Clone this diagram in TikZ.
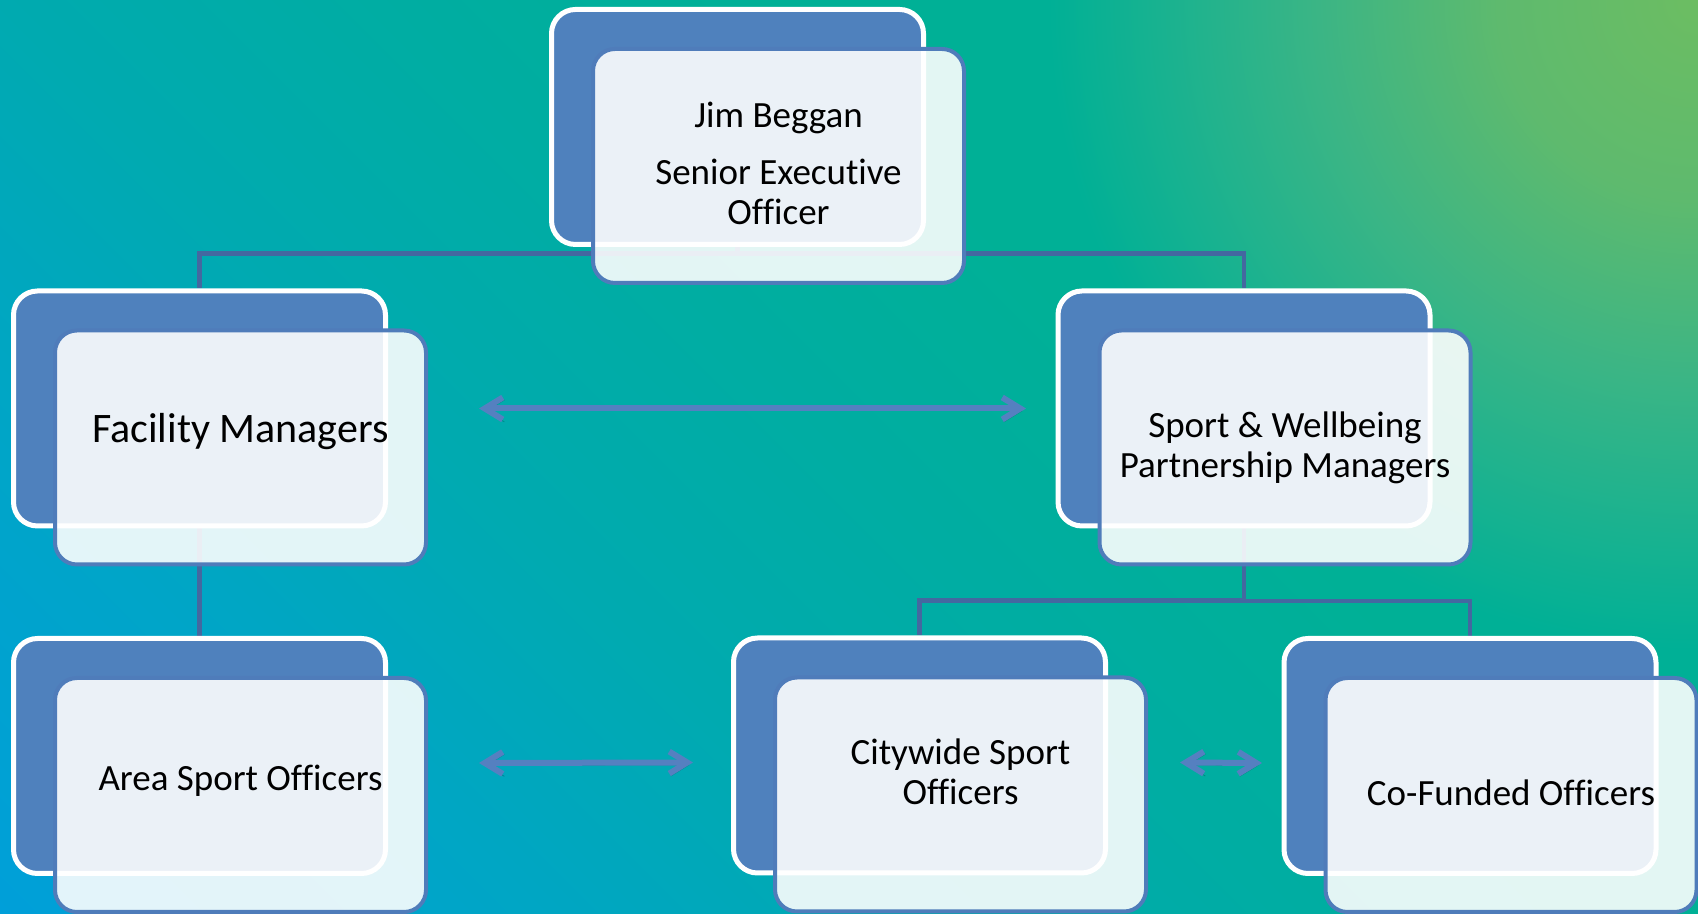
\documentclass[tikz,border=0pt]{standalone}
\usepackage{fontspec}
\setmainfont{Carlito}[Ligatures={NoCommon,NoRequired,NoContextual}]
\usetikzlibrary{arrows.meta}

\definecolor{cardblue}{HTML}{4F81BD}
\definecolor{rimblue}{HTML}{4F7CBA}
\definecolor{linkblue}{HTML}{4468A0}
\definecolor{arrowblue}{HTML}{5580C0}
\definecolor{wash0}{HTML}{009FD9}
\definecolor{wash1}{HTML}{00A5C8}
\definecolor{wash2}{HTML}{00AAB0}
\definecolor{wash3}{HTML}{00ADA2}
\definecolor{wash4}{HTML}{00B096}
\definecolor{glow0}{HTML}{6CBD62}
\definecolor{glow1}{HTML}{5EBA6E}
\definecolor{glow2}{HTML}{3BB585}
\definecolor{glow3}{HTML}{18B290}

% diagonal wash, blue at the bottom left, teal towards the top right
\pgfdeclarehorizontalshading{bgwash}{940pt}{color(0pt)=(wash0); color(164pt)=(wash1);
  color(323pt)=(wash2); color(465pt)=(wash3); color(592pt)=(wash4);
  color(923.5pt)=(wash4)}
% green glow in the top right corner
\pgfdeclareradialshading{bgglow}{\pgfpoint{0pt}{0pt}}{color(0pt)=(glow0);
  color(100pt)=(glow1); color(190pt)=(glow2); color(270pt)=(glow3);
  color(325pt)=(wash4)}

\pgfdeclarelayer{wash}
\pgfdeclarelayer{links}
\pgfsetlayers{wash,links,main}

\tikzset{
  backcard/.style={draw=white, line width=2.5pt, fill=cardblue, rounded corners=12pt,
    minimum width=186pt, minimum height=117.5pt, inner sep=0pt},
  frontcard/.style={draw=rimblue, line width=2pt, fill=white, fill opacity=.89,
    rounded corners=11pt, minimum width=185.5pt, minimum height=117pt, inner sep=0pt},
  cardtext/.style={align=center, text=black, font=\fontsize{18.5}{20}\selectfont},
  link/.style={draw=linkblue, line width=2.4pt},
  twoway/.style={draw=arrowblue, line width=3pt, line cap=round,
    {Straight Barb[length=9pt,width=11pt]}-{Straight Barb[length=9pt,width=11pt]},
    preaction={draw=black, opacity=.2, transform canvas={xshift=.8pt,yshift=-1.2pt}}}
}

\begin{document}
\begin{tikzpicture}[x=1pt,y=1pt]
  \useasboundingbox (0,0) rectangle (849,457);
  \begin{pgfonlayer}{wash}
    \begin{scope}
      \clip (0,0) rectangle (849,457);
      \node[rotate=45, inner sep=0pt] (wash) at (424.5,228.5) {\pgfuseshading{bgwash}};
      \clip (849,457) circle (325);
      \node[inner sep=0pt] (glow) at (849,457) {\pgfuseshading{bgglow}};
    \end{scope}
  \end{pgfonlayer}

  % cards: blue back plate, pale front plate, then the text
  \node[backcard] (sen) at (368.75,393.5) {};
  \node[frontcard] (sen-f) at ([shift={(20.5,-19.5)}]sen.center) {};
  \node[cardtext] (sen-t) at ([yshift=1.5pt]sen-f.center) {Jim Beggan\\[8.5pt]Senior Executive\\Officer};

  \node[backcard] (fm) at (99.75,252.75) {};
  \node[frontcard] (fm-f) at ([shift={(20.5,-19.5)}]fm.center) {};
  \node[cardtext, font=\fontsize{21}{23}\selectfont] (fm-t) at ([yshift=7.75pt]fm-f.center) {Facility Managers};

  \node[backcard] (sw) at (622,252.75) {};
  \node[frontcard] (sw-f) at ([shift={(20.5,-19.5)}]sw.center) {};
  \node[cardtext] (sw-t) at (sw-f.center) {Sport \& Wellbeing\\Partnership Managers};

  \node[backcard] (as) at (99.75,79) {};
  \node[frontcard] (as-f) at ([shift={(20.5,-19.5)}]as.center) {};
  \node[cardtext] (as-t) at ([yshift=7.2pt]as-f.center) {Area Sport Officers};

  \node[backcard] (cw) at (459.75,79.25) {};
  \node[frontcard] (cw-f) at ([shift={(20.5,-19.5)}]cw.center) {};
  \node[cardtext] (cw-t) at ([yshift=11.5pt]cw-f.center) {Citywide Sport\\Officers};

  \node[backcard] (cf) at (735,79) {};
  \node[frontcard] (cf-f) at ([shift={(20.5,-19.5)}]cf.center) {};
  \node[cardtext] (cf-t) at ([yshift=1pt]cf-f.center) {Co-Funded Officers};

  % reporting lines run under the cards
  \begin{pgfonlayer}{links}
    \draw[link] (sen.center) |- ([yshift=17.5pt]fm.north) -- (fm.north);
    \draw[link] (sen.center) |- ([yshift=17.5pt]sw.north) -- (sw.north);
    \draw[link] (fm.center) -- (as.north);
    \draw[link] (sw.center) |- ([yshift=17.5pt]cw.north) -- (cw.north);
    \draw[link] (sw.center) |- ([yshift=17.5pt]cf.north) -- (cf.north);
  \end{pgfonlayer}

  % two-way links between teams
  \draw[twoway] ([xshift=45.5pt]fm.east) -- ([xshift=-14.75pt]sw.west);
  \draw[twoway] ([xshift=45.5pt,yshift=-3.5pt]as.east) -- ([xshift=-19pt,yshift=-3.5pt]cw.west);
  \draw[twoway] ([xshift=36pt,yshift=-3.5pt]cw.east) -- ([xshift=-9.75pt,yshift=-3.5pt]cf.west);
\end{tikzpicture}
\end{document}
